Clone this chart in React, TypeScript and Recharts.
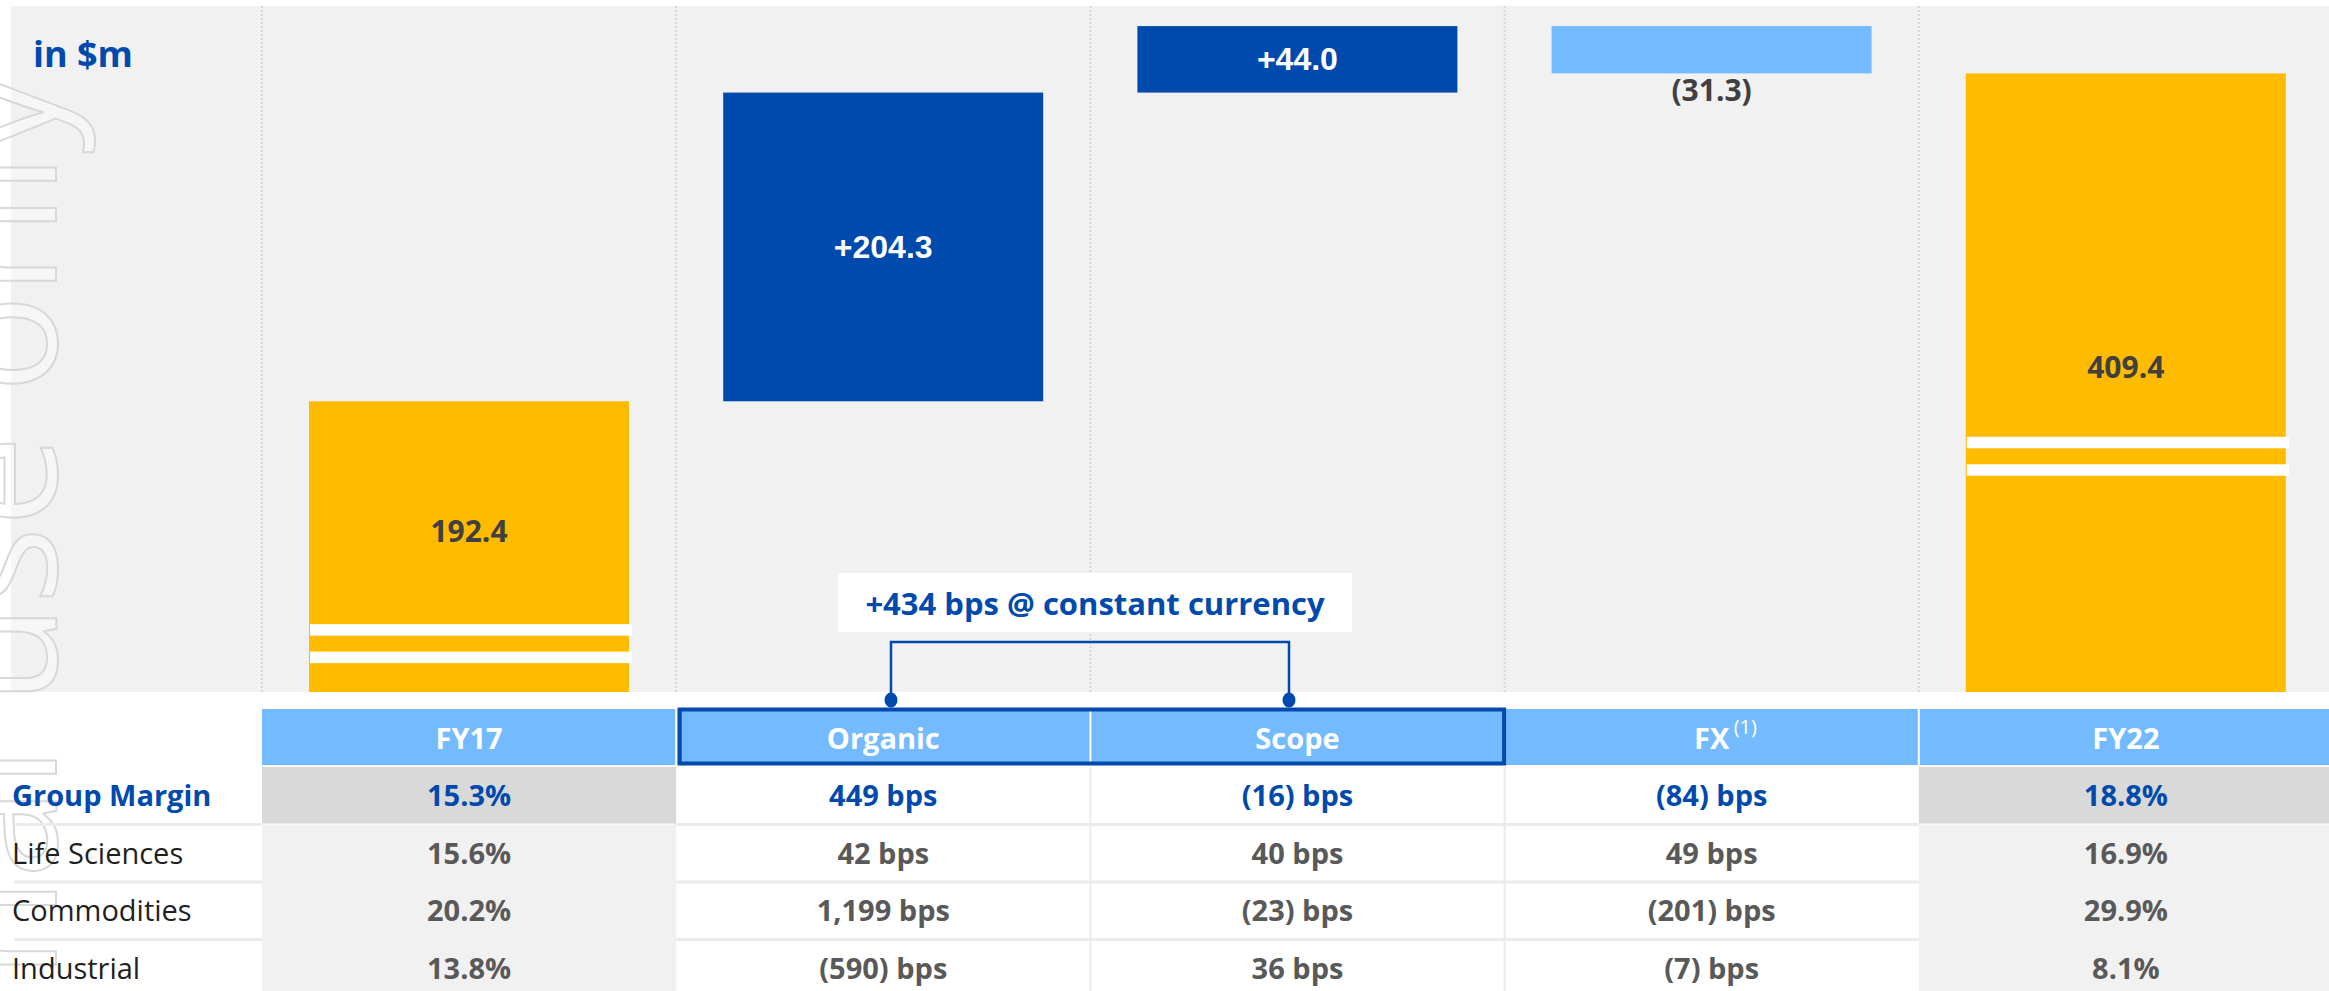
import React from "react";
import { ComposedChart, Bar, XAxis, YAxis, CartesianGrid, Cell } from "recharts";

// waterfall, $m
const categories = ["FY17", "Organic", "Scope", "FX", "FY22"];
const values = [192.4, 204.3, 44.0, -31.3, 409.4];
const isTotal = [true, false, false, false, true];

// table under the bars
const headerLabels = ["FY17", "Organic", "Scope", "FX", "FY22"];
const rowLabels = ["Group Margin", "Life Sciences", "Commodities", "Industrial"];
const groupMargin = ["15.3%", "449 bps", "(16) bps", "(84) bps", "18.8%"];
const lifeSciences = ["15.6%", "42 bps", "40 bps", "49 bps", "16.9%"];
const commodities = ["20.2%", "1,199 bps", "(23) bps", "(201) bps", "29.9%"];
const industrial = ["13.8%", "(590) bps", "36 bps", "(7) bps", "8.1%"];
const bracketNote = "+434 bps @ constant currency";

const BLUE = "#004AAD";
const LIGHT_BLUE = "#73BAFF";
const YELLOW = "#FFBB00";
const barColors = [YELLOW, BLUE, BLUE, LIGHT_BLUE, YELLOW];
// value level of the white "axis break" marks on the total bars
const BREAK_AT = [32, 0, 0, 0, 156];

const W = 2329;
const H = 991;
const CHART_W = 2333;
const CHART_H = 692;
const LEFT = 262;
const COL_W = (CHART_W - LEFT) / categories.length;

const HEAD_Y = 709;
const HEAD_H = 56;
const ROW_Y0 = 767;
const ROW_H = 57.5;

const SANS = "'Open Sans', 'Noto Sans', sans-serif";

const fmt = (v: number, total: boolean) => {
  if (total) return v.toFixed(1);
  if (v < 0) return `(${Math.abs(v).toFixed(1)})`;
  return `+${v.toFixed(1)}`;
};

let running = 0;
const chartData = categories.map((name, i) => {
  const v = values[i];
  let base = 0;
  let size = 0;
  if (isTotal[i]) {
    size = v;
    running = v;
  } else if (v >= 0) {
    base = running;
    size = v;
    running += v;
  } else {
    running += v;
    base = running;
    size = -v;
  }
  return { name, base, size };
});

const tableRows = [groupMargin, lifeSciences, commodities, industrial];

function WaterfallBar(props: any) {
  const { x, y, width, height, index, payload } = props;
  const i = index as number;
  const cx = x + width / 2;
  const label = fmt(values[i], isTotal[i]);
  let stripes = null;
  if (isTotal[i] && BREAK_AT[i] > 0) {
    const c = y + height - (BREAK_AT[i] / payload.size) * height;
    stripes = (
      <g>
        <rect x={x + 1} y={c - 19.5} width={width + 2} height={11.5} fill="#ffffff" />
        <rect x={x + 1} y={c + 8} width={width + 2} height={11.5} fill="#ffffff" />
      </g>
    );
  }
  let text;
  if (isTotal[i]) {
    text = (
      <text x={cx} y={y + height / 2 - 16} textAnchor="middle" dominantBaseline="central"
        fill="#404040" fontFamily={SANS} fontWeight={700} fontSize={30}>
        {label}
      </text>
    );
  } else if (values[i] >= 0) {
    text = (
      <text x={cx} y={y + height / 2} textAnchor="middle" dominantBaseline="central"
        fill="#ffffff" fontFamily="'Liberation Sans', Arial, sans-serif" fontWeight={700} fontSize={32}>
        {label}
      </text>
    );
  } else {
    text = (
      <text x={cx} y={y + height + 16} textAnchor="middle" dominantBaseline="central"
        fill="#404040" fontFamily={SANS} fontWeight={700} fontSize={30}>
        {label}
      </text>
    );
  }
  return (
    <g>
      <rect x={x} y={y} width={width} height={height} fill={props.fill} />
      {stripes}
      {text}
    </g>
  );
}

function Overlay() {
  const colX = (c: number) => LEFT + c * COL_W;
  return (
    <svg width={W} height={H} style={{ position: "absolute", left: 0, top: 0 }}>
      {/* watermark */}
      <text
        transform="translate(56, 72) rotate(-90)"
        textAnchor="end"
        fontFamily={SANS}
        fontWeight={400}
        fontSize={163}
        fill="#ffffff"
        fillOpacity={0.4}
        stroke="#d8d8d8"
        strokeWidth={2}
      >
        For internal use only
      </text>

      <text x={33} y={53} dominantBaseline="central" fill={BLUE} fontFamily={SANS} fontWeight={700} fontSize={36}>
        in $m
      </text>

      {/* header row */}
      <rect x={LEFT} y={HEAD_Y} width={W - LEFT} height={HEAD_H} fill={LIGHT_BLUE} />
      {[1, 2, 3, 4].map((c) => (
        <rect key={c} x={colX(c) - 1} y={HEAD_Y} width={2} height={HEAD_H} fill="#ffffff" />
      ))}
      {headerLabels.map((h, c) => (
        <text key={h} x={colX(c) + COL_W / 2} y={HEAD_Y + HEAD_H / 2} textAnchor="middle"
          dominantBaseline="central" fill="#ffffff" fontFamily={SANS} fontWeight={700} fontSize={29}>
          {h}
        </text>
      ))}
      <text x={colX(3) + COL_W / 2 + 22} y={HEAD_Y + HEAD_H / 2 - 11} dominantBaseline="central"
        fill="#ffffff" fontFamily={SANS} fontWeight={400} fontSize={20}>
        (1)
      </text>

      {/* body backgrounds */}
      {[0, 4].map((c) =>
        rowLabels.map((_, r) => (
          <rect key={`${c}-${r}`} x={colX(c)} y={ROW_Y0 + r * ROW_H} width={c === 4 ? W - colX(c) : COL_W}
            height={r === 0 ? ROW_H - 1 : ROW_H + 1} fill={r === 0 ? "#D9D9D9" : "#F1F1F1"} />
        ))
      )}
      {[1, 2, 3].map((r) => (
        <g key={r}>
          <rect x={14} y={ROW_Y0 + r * ROW_H - 1.5} width={LEFT - 14} height={3} fill="#EBEBEB" />
          <rect x={colX(1)} y={ROW_Y0 + r * ROW_H - 1.5} width={COL_W * 3} height={3} fill="#EBEBEB" />
        </g>
      ))}
      {[2, 3].map((c) => (
        <rect key={c} x={colX(c) - 1} y={ROW_Y0} width={2} height={H - ROW_Y0} fill="#EBEBEB" />
      ))}

      {rowLabels.map((lab, r) => (
        <text key={lab} x={12} y={ROW_Y0 + r * ROW_H + ROW_H / 2 - 1} dominantBaseline="central"
          fill={r === 0 ? BLUE : "#1f1f1f"} fontFamily={SANS} fontWeight={r === 0 ? 700 : 400} fontSize={29}>
          {lab}
        </text>
      ))}
      {tableRows.map((row, r) =>
        row.map((v, c) => (
          <text key={`${r}-${c}`} x={colX(c) + COL_W / 2} y={ROW_Y0 + r * ROW_H + ROW_H / 2 - 1}
            textAnchor="middle" dominantBaseline="central" fill={r === 0 ? BLUE : "#595959"}
            fontFamily={SANS} fontWeight={700} fontSize={29}>
            {v}
          </text>
        ))
      )}

      {/* constant currency bracket */}
      <rect x={colX(1) + 3.5} y={HEAD_Y + 0.5} width={COL_W * 2 - 4} height={HEAD_H - 2} fill="none"
        stroke={BLUE} strokeWidth={4} />
      <path d="M 891 700 V 642 H 1289 V 700" fill="none" stroke={BLUE} strokeWidth={2.5} />
      <ellipse cx={891} cy={700} rx={6.5} ry={7.5} fill={BLUE} />
      <ellipse cx={1289} cy={700} rx={6.5} ry={7.5} fill={BLUE} />
      <rect x={838} y={573} width={514} height={59} fill="#ffffff" />
      <text x={1095} y={603} textAnchor="middle" dominantBaseline="central" fill={BLUE}
        fontFamily={SANS} fontWeight={700} fontSize={31}>
        {bracketNote}
      </text>
    </svg>
  );
}

export default function App() {
  return (
    <div style={{ position: "absolute", left: 0, top: 0, width: W, height: H, overflow: "hidden", background: "#ffffff" }}>
      <div style={{ position: "absolute", left: 11, top: 6, width: W - 11, height: CHART_H - 6, background: "#F1F1F1" }} />
      <div style={{ position: "absolute", left: 0, top: 0 }}>
        <ComposedChart width={CHART_W} height={CHART_H} data={chartData}
          margin={{ top: 6, right: 0, bottom: 0, left: LEFT }} barCategoryGap={0}>
          <CartesianGrid
            horizontal={false}
            stroke="#D6D6D6"
            strokeWidth={2}
            strokeDasharray="2 2"
            verticalCoordinatesGenerator={(arg: any) => {
              const off = arg && arg.offset ? arg.offset : { left: LEFT, width: CHART_W - LEFT };
              return categories.map((_, i) => off.left + (i * off.width) / categories.length);
            }}
          />
          <XAxis dataKey="name" hide />
          <YAxis hide domain={[0, 454]} />
          <Bar dataKey="base" stackId="w" fill="transparent" isAnimationActive={false} barSize={320} />
          <Bar dataKey="size" stackId="w" isAnimationActive={false} barSize={320} shape={WaterfallBar}>
            {chartData.map((d, i) => (
              <Cell key={d.name} fill={barColors[i]} />
            ))}
          </Bar>
        </ComposedChart>
      </div>
      <Overlay />
    </div>
  );
}
